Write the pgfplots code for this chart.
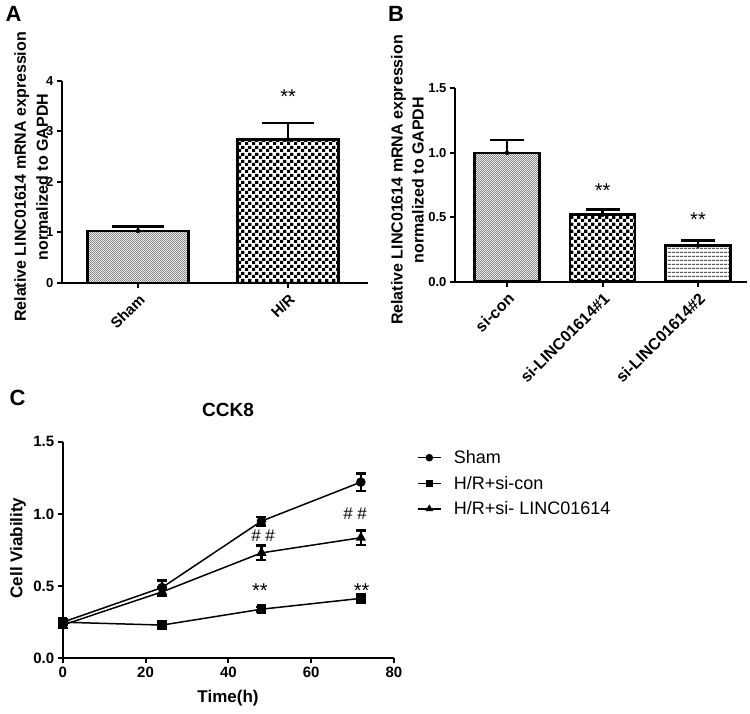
\documentclass[border=0pt]{standalone}
\usepackage{pgfplots}
\pgfplotsset{compat=1.18}
\usepackage{fontspec}
\setmainfont{Liberation Sans}
\usetikzlibrary{patterns}

\pgfdeclarepatternformonly{finecheck}{\pgfpointorigin}{\pgfpoint{2.4pt}{2.4pt}}{\pgfpoint{2.4pt}{2.4pt}}{%
  \pgfpathrectangle{\pgfpointorigin}{\pgfpoint{0.85pt}{0.85pt}}%
  \pgfpathrectangle{\pgfpoint{1.2pt}{1.2pt}}{\pgfpoint{0.85pt}{0.85pt}}%
  \pgfusepath{fill}}
\pgfdeclarepatternformonly{bigcheck}{\pgfpointorigin}{\pgfpoint{6.6pt}{6.6pt}}{\pgfpoint{6.6pt}{6.6pt}}{%
  \pgfpathrectangle{\pgfpointorigin}{\pgfpoint{3.3pt}{3.3pt}}%
  \pgfpathrectangle{\pgfpoint{3.3pt}{3.3pt}}{\pgfpoint{3.3pt}{3.3pt}}%
  \pgfusepath{fill}}
\pgfdeclarepatternformonly{hlinesp}{\pgfpoint{0pt}{0pt}}{\pgfpoint{4pt}{4.2pt}}{\pgfpoint{4pt}{4.2pt}}{%
  \pgfpathrectangle{\pgfpoint{0pt}{1.6pt}}{\pgfpoint{4pt}{1pt}}%
  \pgfusepath{fill}}

\pgfplotsset{
  gp/.style={
    scale only axis,
    anchor=south west,
    axis x line=bottom, axis y line=left,
    axis line style={-, line width=2pt},
    tick align=outside,
    major tick length=5pt,
    every tick/.style={black, line width=2pt},
    /pgf/number format/assume math mode=true,
    ticklabel style={font=\bfseries\fontsize{13}{15}\selectfont},
    clip=false,
  },
  errb/.style={black, forget plot, only marks, mark=none,
    error bars/.cd, y dir=plus, y explicit,
    error bar style={line width=2.5pt},
    error mark options={rotate=90, line width=2.5pt, mark size=#1}},
  errc/.style={error bars/.cd, y dir=both, y explicit,
    error bar style={line width=2.5pt},
    error mark options={rotate=90, line width=2.5pt, mark size=5pt}},
}

\begin{document}
\begin{tikzpicture}[x=1pt,y=1pt]
\path[use as bounding box] (0,0) rectangle (750,714);

\node[font=\bfseries\fontsize{22}{24}\selectfont] at (13.5,700.5) {A};
\node[font=\bfseries\fontsize{22}{24}\selectfont] at (396,700.5) {B};
\node[font=\bfseries\fontsize{22}{24}\selectfont] at (17.5,316.5) {C};

% Panel A
\begin{axis}[gp,
  at={(62pt,431pt)}, width=306pt, height=202pt,
  xmin=-0.507, xmax=1.533, ymin=0, ymax=4,
  xtick={0,1}, xticklabels={Sham,H/R},
  ytick={0,1,2,3,4},
  x tick label style={rotate=45, anchor=north east, font=\bfseries\fontsize{15}{17}\selectfont},
  ylabel={Relative LINC01614 mRNA expression\\normalized to GAPDH},
  every axis y label/.style={at={(axis description cs:-0.101,0.525)}, rotate=90, anchor=center,
    align=center, font=\bfseries\fontsize{16}{22}\selectfont},
]
\addplot[ybar, bar width=101pt, bar shift=0pt, draw=black, line width=2.5pt, pattern=finecheck] coordinates {(0,1.03)};
\addplot[ybar, bar width=101pt, bar shift=0pt, draw=black, line width=2.5pt, pattern=bigcheck] coordinates {(1,2.84)};
\addplot[errb=26pt] coordinates {(0,1.03) +- (0,0.09) (1,2.84) +- (0,0.33)};
\node[font=\fontsize{20}{22}\selectfont] at (axis cs:1,3.70) {**};
\end{axis}

% Panel B
\begin{axis}[gp,
  at={(455pt,432.3pt)}, width=292pt, height=193.3pt,
  xmin=-0.545, xmax=2.513, ymin=0, ymax=1.5,
  xtick={0,1,2}, xticklabels={si-con,si-LINC01614\#1,si-LINC01614\#2},
  ytick={0,0.5,1.0,1.5},
  yticklabel style={/pgf/number format/.cd, fixed, fixed zerofill, precision=1},
  x tick label style={rotate=45, anchor=north east, font=\bfseries\fontsize{16}{18}\selectfont},
  ylabel={Relative LINC01614 mRNA expression\\normalized to GAPDH},
  every axis y label/.style={at={(axis description cs:-0.163,0.526)}, rotate=90, anchor=center,
    align=center, font=\bfseries\fontsize{16}{21}\selectfont},
]
\addplot[ybar, bar width=65pt, bar shift=0pt, draw=black, line width=2.5pt, pattern=finecheck] coordinates {(0,1.00)};
\addplot[ybar, bar width=65pt, bar shift=0pt, draw=black, line width=2.5pt, pattern=bigcheck] coordinates {(1,0.52)};
\addplot[ybar, bar width=65pt, bar shift=0pt, draw=black, line width=2.5pt, pattern=hlinesp] coordinates {(2,0.28)};
\addplot[errb=17pt] coordinates {(0,1.00) +- (0,0.10) (1,0.52) +- (0,0.04) (2,0.28) +- (0,0.04)};
\node[font=\fontsize{20}{22}\selectfont] at (axis cs:1,0.71) {**};
\node[font=\fontsize{20}{22}\selectfont] at (axis cs:2,0.48) {**};
\end{axis}

% Panel C
\begin{axis}[gp,
  at={(62.7pt,55.7pt)}, width=331.3pt, height=216.6pt,
  xmin=0, xmax=80, ymin=0, ymax=1.5,
  xtick={0,20,40,60,80},
  ytick={0,0.5,1.0,1.5},
  ticklabel style={font=\bfseries\fontsize{15}{17}\selectfont},
  yticklabel style={/pgf/number format/.cd, fixed, fixed zerofill, precision=1},
  title={CCK8},
  every axis title/.style={at={(axis description cs:0.499,1.146)}, anchor=center, font=\bfseries\fontsize{19}{21}\selectfont},
  xlabel={Time(h)},
  every axis x label/.style={at={(axis description cs:0.499,-0.183)}, anchor=center, font=\bfseries\fontsize{17}{19}\selectfont},
  ylabel={Cell Viability},
  every axis y label/.style={at={(axis description cs:-0.135,0.509)}, rotate=90, anchor=center, font=\bfseries\fontsize{17}{19}\selectfont},
  legend style={at={(axis description cs:1.06,0.979)}, anchor=north west, draw=none, fill=none,
    font=\fontsize{18}{20}\selectfont, row sep=7pt, cells={anchor=west}},
  legend image code/.code={\draw[#1, mark size=3pt] plot coordinates {(0pt,0pt) (11.5pt,0pt) (23pt,0pt)};
    \path[draw=none] (0pt,0pt) -- (34pt,0pt);},
  legend image post style={mark repeat=2, mark phase=2},
]
\addplot[black, line width=1.5pt, mark=*, mark size=4pt, errc]
  coordinates {(0,0.25) +- (0,0.02) (24,0.49) +- (0,0.05) (48,0.95) +- (0,0.03) (72,1.22) +- (0,0.06)};
\addlegendentry{Sham}
\addplot[black, line width=1.5pt, mark=square*, mark size=4pt, errc]
  coordinates {(0,0.25) +- (0,0.02) (24,0.23) +- (0,0.015) (48,0.34) +- (0,0.015) (72,0.415) +- (0,0.03)};
\addlegendentry{H/R+si-con}
\addplot[black, line width=1.5pt, mark=triangle*, mark size=4.5pt, errc]
  coordinates {(0,0.23) +- (0,0.02) (24,0.46) +- (0,0.03) (48,0.73) +- (0,0.05) (72,0.835) +- (0,0.05)};
\addlegendentry{H/R+si- LINC01614}
\node[font=\fontsize{17}{19}\selectfont] at (axis cs:48.4,0.85) {\# \#};
\node[font=\fontsize{17}{19}\selectfont] at (axis cs:70.6,1.0) {\# \#};
\node[font=\fontsize{20}{22}\selectfont] at (axis cs:47.6,0.472) {**};
\node[font=\fontsize{20}{22}\selectfont] at (axis cs:72.2,0.472) {**};
\end{axis}
\end{tikzpicture}
\end{document}
